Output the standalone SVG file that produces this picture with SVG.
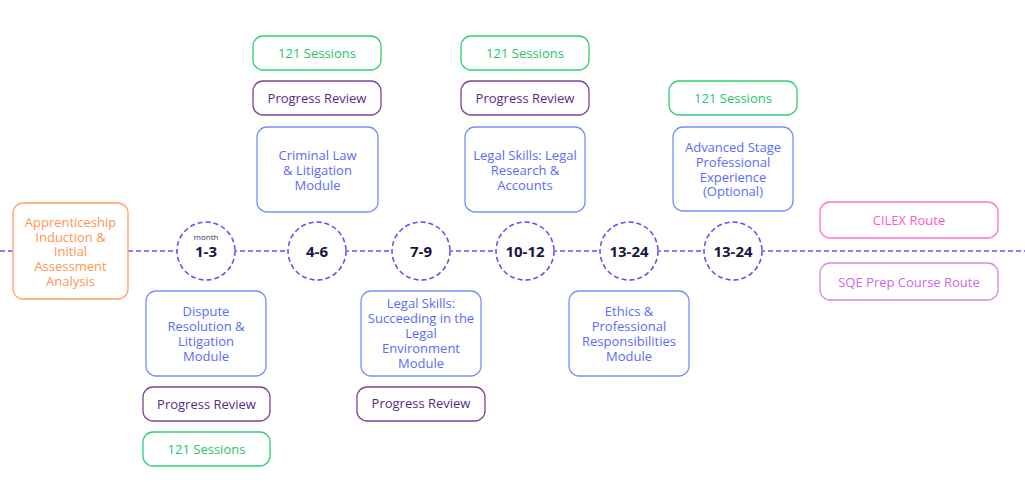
<svg xmlns="http://www.w3.org/2000/svg" width="1025" height="502" viewBox="0 0 1025 502">
<style>
text{font-family:"Open Sans","Noto Sans","Liberation Sans",sans-serif;font-size:13px;text-anchor:middle;dominant-baseline:central}
rect{fill:#fff;stroke-width:1.3}
.blue rect{stroke:#7b8dff}.blue text{fill:#5b6cf5}
.green rect{stroke:#2fcf78}.green text{fill:#1fc46a}
.purple rect{stroke:#7d4399}.purple text{fill:#5b2a86}
.orange rect{stroke:#ffa36b}.orange text{fill:#ff9550}
.pink rect{stroke:#ff73c8}.pink text{fill:#ff5bbd}
.sqe rect{stroke:#d786f2}.sqe text{fill:#cc66ee}
.circ circle{fill:#fff;stroke:#6f4cf5;stroke-width:1.6;stroke-dasharray:5 3}
.circ text{fill:#1a1440;font-weight:bold;font-size:15px}
.circ text.m{font-weight:normal;font-size:8px;fill:#3a3550}
</style>
<g id="connectors">
<line x1="0" y1="251" x2="1025" y2="251" stroke="#6f4cf5" stroke-width="1.6" stroke-dasharray="5 3"/>
</g>
<g id="induction" class="orange"><rect x="13" y="203" width="115" height="96" rx="10"/>
<text x="70.5" y="222">Apprenticeship</text><text x="70.5" y="236.5">Induction &amp;</text><text x="70.5" y="251">Initial</text><text x="70.5" y="266">Assessment</text><text x="70.5" y="281">Analysis</text></g>
<g id="m1" class="circ"><circle cx="206" cy="251" r="29"/><text class="m" x="206" y="236">month</text><text x="206" y="251">1-3</text></g>
<g id="m2" class="circ"><circle cx="317" cy="251" r="29"/><text x="317" y="251">4-6</text></g>
<g id="m3" class="circ"><circle cx="421" cy="251" r="29"/><text x="421" y="251">7-9</text></g>
<g id="m4" class="circ"><circle cx="525" cy="251" r="29"/><text x="525" y="251">10-12</text></g>
<g id="m5" class="circ"><circle cx="629" cy="251" r="29"/><text x="629" y="251">13-24</text></g>
<g id="m6" class="circ"><circle cx="733" cy="251" r="29"/><text x="733" y="251">13-24</text></g>
<g id="dispute" class="blue"><rect x="146" y="291" width="120" height="85" rx="10"/>
<text x="206" y="311">Dispute</text><text x="206" y="326">Resolution &amp;</text><text x="206" y="341">Litigation</text><text x="206" y="356">Module</text></g>
<g id="pr1" class="purple"><rect x="143" y="387" width="127" height="34" rx="10"/><text x="206.5" y="404">Progress Review</text></g>
<g id="s1" class="green"><rect x="143" y="432" width="127" height="34" rx="10"/><text x="206.5" y="449">121 Sessions</text></g>
<g id="s2" class="green"><rect x="253" y="36" width="128" height="34" rx="10"/><text x="317" y="53">121 Sessions</text></g>
<g id="pr2" class="purple"><rect x="253" y="81" width="128" height="34" rx="10"/><text x="317" y="98">Progress Review</text></g>
<g id="criminal" class="blue"><rect x="257" y="127" width="121" height="85" rx="10"/>
<text x="317.5" y="155">Criminal Law</text><text x="317.5" y="170">&amp; Litigation</text><text x="317.5" y="185">Module</text></g>
<g id="succeeding" class="blue"><rect x="361" y="291" width="120" height="85" rx="10"/>
<text x="421" y="303">Legal Skills:</text><text x="421" y="318">Succeeding in the</text><text x="421" y="333">Legal</text><text x="421" y="348">Environment</text><text x="421" y="363">Module</text></g>
<g id="pr3" class="purple"><rect x="357" y="387" width="128" height="34" rx="10"/><text x="421" y="403">Progress Review</text></g>
<g id="s3" class="green"><rect x="461" y="36" width="128" height="34" rx="10"/><text x="525" y="53">121 Sessions</text></g>
<g id="pr4" class="purple"><rect x="461" y="81" width="128" height="34" rx="10"/><text x="525" y="98">Progress Review</text></g>
<g id="research" class="blue"><rect x="465" y="127" width="120" height="85" rx="10"/>
<text x="525" y="155">Legal Skills: Legal</text><text x="525" y="170">Research &amp;</text><text x="525" y="185">Accounts</text></g>
<g id="ethics" class="blue"><rect x="569" y="291" width="120" height="85" rx="10"/>
<text x="629" y="311">Ethics &amp;</text><text x="629" y="326">Professional</text><text x="629" y="341">Responsibilities</text><text x="629" y="356">Module</text></g>
<g id="s4" class="green"><rect x="669" y="81" width="128" height="34" rx="10"/><text x="733" y="98">121 Sessions</text></g>
<g id="advanced" class="blue"><rect x="673" y="127" width="120" height="84" rx="10"/>
<text x="733" y="147">Advanced Stage</text><text x="733" y="161.5">Professional</text><text x="733" y="176.5">Experience</text><text x="733" y="191">(Optional)</text></g>
<g id="cilex" class="pink"><rect x="820" y="202" width="178" height="36" rx="10"/><text x="909" y="220">CILEX Route</text></g>
<g id="sqe" class="sqe"><rect x="820" y="263" width="178" height="37" rx="10"/><text x="909" y="282">SQE Prep Course Route</text></g>
</svg>
